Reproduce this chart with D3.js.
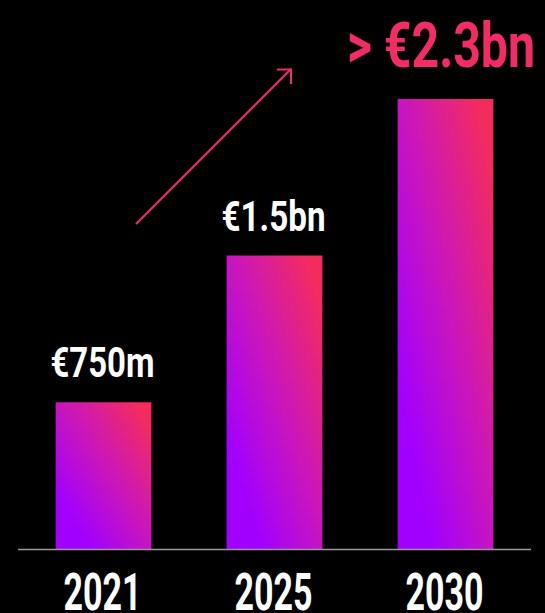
<!DOCTYPE html>
<meta charset="utf-8">
<style>
  body { margin: 0; background: #000; }
  text { font-family: Roboto, "Liberation Sans Narrow", sans-serif; font-weight: 700; }
</style>
<body>
<script src="https://d3js.org/d3.v7.min.js"></script>
<script>

// chart data
var years = ["2021", "2025", "2030"];
var values = [750, 1500, 2300];          // millions of euro
var valueLabels = ["€750m", "€1.5bn", "€2.3bn"];

var width = 545, height = 613;
var baseline = 549;

var svg = d3.select("body").append("svg")
    .attr("width", width)
    .attr("height", height)
    .style("background", "#000");

// bar gradient: purple bottom-left to pink top-right
var grad = svg.append("defs").append("linearGradient")
    .attr("id", "barGrad")
    .attr("x1", 0).attr("y1", 1)
    .attr("x2", 1).attr("y2", 0);
grad.append("stop").attr("offset", "0.18").attr("stop-color", "#a100ff");
grad.append("stop").attr("offset", "0.55").attr("stop-color", "#cc17b8");
grad.append("stop").attr("offset", "0.92").attr("stop-color", "#f42c5e");

var x = d3.scaleBand()
    .domain(years)
    .range([18, 531])
    .paddingInner(0.44)
    .paddingOuter(0.22);

var y = d3.scaleLinear()
    .domain([0, 2300])
    .range([baseline, 99]);

var data = years.map(function(d, i) {
  return {year: d, value: values[i], label: valueLabels[i]};
});

svg.selectAll(".bar")
    .data(data)
  .enter().append("rect")
    .attr("class", "bar")
    .attr("x", function(d) { return x(d.year); })
    .attr("width", x.bandwidth())
    .attr("y", function(d) { return y(d.value); })
    .attr("height", function(d) { return baseline - y(d.value); })
    .attr("fill", "url(#barGrad)");

// baseline
svg.append("line")
    .attr("x1", 18).attr("x2", 531)
    .attr("y1", baseline + 0.5).attr("y2", baseline + 0.5)
    .attr("stroke", "#9a9a9a")
    .attr("stroke-width", 1.5);

// year labels
svg.selectAll(".year")
    .data(data)
  .enter().append("text")
    .attr("class", "year")
    .attr("x", function(d) { return x(d.year) + x.bandwidth() / 2 - 1; })
    .attr("y", 610)
    .attr("text-anchor", "middle")
    .attr("fill", "#fff")
    .attr("font-size", 52)
    .attr("textLength", 78)
    .attr("lengthAdjust", "spacingAndGlyphs")
    .text(function(d) { return d.year; });

// value labels on the first two bars
svg.selectAll(".val")
    .data(data.slice(0, 2))
  .enter().append("text")
    .attr("class", "val")
    .attr("x", function(d) { return x(d.year) + x.bandwidth() / 2 - 1; })
    .attr("y", function(d) { return y(d.value) - 25; })
    .attr("text-anchor", "middle")
    .attr("fill", "#fff")
    .attr("font-size", 42)
    .attr("textLength", 104)
    .attr("lengthAdjust", "spacingAndGlyphs")
    .text(function(d) { return d.label; });

// highlighted 2030 label
var last = data[2];
svg.append("text")
    .attr("x", 347)
    .attr("y", y(last.value) - 32)
    .attr("fill", "#f42c66")
    .attr("font-size", 63)
    .attr("font-weight", 500)
    .attr("textLength", 188)
    .attr("lengthAdjust", "spacingAndGlyphs")
    .text("> " + last.label);

// growth arrow
svg.append("line")
    .attr("x1", 136).attr("y1", 224)
    .attr("x2", 291).attr("y2", 69)
    .attr("stroke", "#f42c66")
    .attr("stroke-width", 2);
svg.append("path")
    .attr("d", "M277,69.5 L291,69.5 L291,84")
    .attr("fill", "none")
    .attr("stroke", "#f42c66")
    .attr("stroke-width", 2);

</script>
</body>
